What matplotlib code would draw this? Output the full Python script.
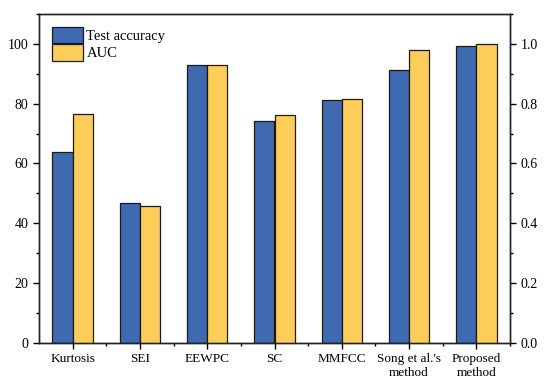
import matplotlib.pyplot as plt
import numpy as np
from matplotlib.ticker import MultipleLocator

methods = ['Kurtosis', 'SEI', 'EEWPC', 'SC', 'MMFCC', "Song et al.'s\nmethod", 'Proposed\nmethod']
test_acc = [63.9, 46.6, 93.1, 74.2, 81.2, 91.4, 99.2]
auc = [0.767, 0.457, 0.929, 0.762, 0.814, 0.979, 1.0]

plt.rcParams['font.family'] = ['Liberation Serif', 'DejaVu Serif']
plt.rcParams['font.size'] = 10

blue = '#3F69B0'
yellow = '#FDCD5A'

fig = plt.figure(figsize=(5.5, 3.88), dpi=100)
ax = fig.add_axes([39/550, 1 - 342.7/388, 471/550, 328.7/388])
ax2 = ax.twinx()

x = np.arange(len(methods))
w = 0.3
b1 = ax.bar(x - w/2, test_acc, w, color=blue, edgecolor='#1a1a1a', linewidth=0.9, label='Test accuracy')
b2 = ax2.bar(x + w/2, auc, w, color=yellow, edgecolor='#1a1a1a', linewidth=0.9, label='AUC')

ax.set_xlim(-0.5, 6.5)
ax.set_ylim(0, 110)
ax2.set_ylim(0, 1.1)
ax.set_xticks(x)
ax.set_xticklabels(methods, fontsize=9.5)
ax.set_xticks(x + 0.5, minor=True)
ax.yaxis.set_major_locator(MultipleLocator(20))
ax.yaxis.set_minor_locator(MultipleLocator(10))
ax2.yaxis.set_major_locator(MultipleLocator(0.2))
ax2.yaxis.set_minor_locator(MultipleLocator(0.1))
ax2.yaxis.set_major_formatter(plt.FuncFormatter(lambda v, p: f'{v:.1f}'))

for a in (ax, ax2):
    for s in a.spines.values():
        s.set_linewidth(1.0)
        s.set_color('#222222')
    a.tick_params(which='major', length=4, width=1.0, direction='out')
    a.tick_params(which='minor', length=2.5, width=1.0, direction='out')

ax.legend([b1, b2], ['Test accuracy', 'AUC'], loc='upper left', frameon=False,
          fontsize=10.5, handlelength=2.1, handleheight=1.35, borderaxespad=0.5,
          handletextpad=0.25, labelspacing=0.05)

fig.savefig('out.png', dpi=100)
